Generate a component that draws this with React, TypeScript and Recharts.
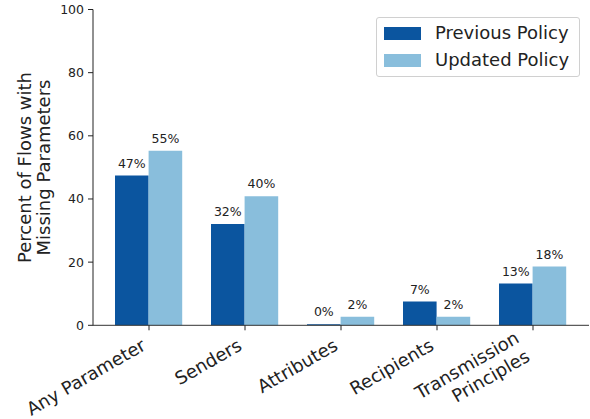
import React from 'react';
import { BarChart, Bar, XAxis, YAxis, Legend, LabelList, Label } from 'recharts';

// values (percent of flows)
const categories = ['Any Parameter', 'Senders', 'Attributes', 'Recipients', 'Transmission\nPrinciples'];
const previousPolicy = [47.4, 32.1, 0.3, 7.5, 13.2];
const updatedPolicy = [55.3, 40.9, 2.7, 2.7, 18.6];
const yTicks = [0, 20, 40, 60, 80, 100];

const DARK = '#0b559f';
const LIGHT = '#89bedc';
const FONT = 'DejaVu Sans, sans-serif';
const TEXT = '#222';

const data = categories.map((name, i) => ({
    name,
    previous: previousPolicy[i],
    updated: updatedPolicy[i],
}));

const XTick = (props: any) => {
    const { x, payload } = props;
    const axisY = 325;
    const lines: string[] = String(payload.value).split('\n');
    const n = lines.length;
    return (
        <g>
            {lines.map((line, i) => {
                // last line ends near the tick, earlier lines step up-left along the rotation
                const back = n - 1 - i;
                const ex = x - 2 - back * 10.5;
                const ey = axisY + 24 + (n > 1 ? 11 : 0) - back * 18.5;
                return (
                    <text
                        key={i}
                        x={ex}
                        y={ey}
                        textAnchor="end"
                        transform={`rotate(-30 ${ex} ${ey})`}
                        fontSize={18}
                        fontFamily={FONT}
                        fill={TEXT}
                    >
                        {line}
                    </text>
                );
            })}
        </g>
    );
};

const YLabel = () => {
    const cy = 167.5;
    return (
        <g fontSize={18} fontFamily={FONT} fill={TEXT}>
            <text x={30.5} y={cy} textAnchor="middle" transform={`rotate(-90 30.5 ${cy})`}>
                Percent of Flows with
            </text>
            <text x={50} y={cy} textAnchor="middle" transform={`rotate(-90 50 ${cy})`}>
                Missing Parameters
            </text>
        </g>
    );
};

const PctLabel = (props: any) => {
    const { x, y, width, value } = props;
    return (
        <text
            x={x + width / 2}
            y={y - 8}
            textAnchor="middle"
            fontSize={12.5}
            fontFamily={FONT}
            fill={TEXT}
        >
            {Math.floor(value)}%
        </text>
    );
};

// zero-height wrapper so the legend does not shrink the plot area
const LegendBox = () => (
    <div style={{ height: 0, position: 'relative' }}>
        <div
            style={{
                position: 'absolute',
                left: 0,
                top: 0,
                width: 204,
                height: 60,
                border: '1px solid #d0d0d0',
                borderRadius: 3,
                background: 'rgba(255,255,255,0.8)',
                fontFamily: FONT,
                fontSize: 18,
                color: TEXT,
                boxSizing: 'border-box',
            }}
        >
            {[
                { label: 'Previous Policy', color: DARK, top: 9 },
                { label: 'Updated Policy', color: LIGHT, top: 36 },
            ].map((it) => (
                <div key={it.label}>
                    <div
                        style={{
                            position: 'absolute',
                            left: 7,
                            top: it.top,
                            width: 37,
                            height: 13,
                            background: it.color,
                        }}
                    />
                    <div
                        style={{
                            position: 'absolute',
                            left: 58,
                            top: it.top - 6,
                            lineHeight: '24px',
                            whiteSpace: 'nowrap',
                        }}
                    >
                        {it.label}
                    </div>
                </div>
            ))}
        </div>
    </div>
);

export default function App() {
    return (
        <div style={{ position: 'absolute', left: 0, top: 0, width: 590, height: 419, background: '#fff' }}>
            <BarChart
                width={590}
                height={419}
                data={data}
                margin={{ top: 9.5, right: 1, bottom: 3.7, left: 0 }}
                barGap={0}
            >
                <XAxis
                    dataKey="name"
                    height={90}
                    padding={{ left: 8, right: 8 }}
                    tick={<XTick />}
                    tickLine={{ stroke: '#222' }}
                    axisLine={{ stroke: '#333' }}
                    tickSize={5}
                    interval={0}
                />
                <YAxis
                    width={93}
                    domain={[0, 100]}
                    ticks={yTicks}
                    tickSize={5}
                    tickMargin={4}
                    axisLine={{ stroke: '#222' }}
                    tickLine={{ stroke: '#222' }}
                    tick={{ fontSize: 12.5, fontFamily: FONT, fill: TEXT }}
                >
                    <Label content={<YLabel />} />
                </YAxis>
                <Legend
                    verticalAlign="top"
                    align="left"
                    content={<LegendBox />}
                    wrapperStyle={{ top: 17, left: 376, width: 206, height: 0 }}
                />
                <Bar dataKey="previous" name="Previous Policy" fill={DARK} barSize={33.6} isAnimationActive={false}>
                    <LabelList dataKey="previous" content={<PctLabel />} />
                </Bar>
                <Bar dataKey="updated" name="Updated Policy" fill={LIGHT} barSize={33.6} isAnimationActive={false}>
                    <LabelList dataKey="updated" content={<PctLabel />} />
                </Bar>
            </BarChart>
        </div>
    );
}
